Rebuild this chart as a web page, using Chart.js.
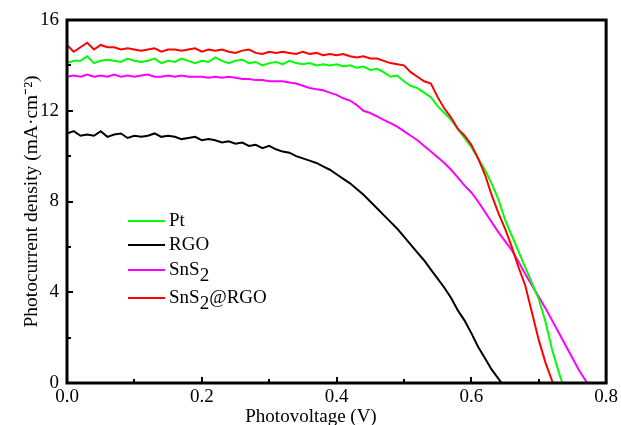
<!DOCTYPE html>
<html>
<head>
<meta charset="utf-8">
<script src="https://cdn.jsdelivr.net/npm/chart.js@4/dist/chart.umd.min.js"></script>
<style>
  html, body { margin: 0; padding: 0; background: #fff; }
  #wrap { width: 621px; height: 425px; position: relative; }
</style>
</head>
<body>
<div id="wrap"><canvas id="myChart"></canvas></div>
<script>
// J-V curves

const labelsLegend = ['Pt', 'RGO', 'SnS₂', 'SnS₂@RGO'];
const colors = ['#00ff00', '#000000', '#ff00ff', '#ff0000'];

const vPt = [0.00,0.01,0.02,0.03,0.04,0.05,0.06,0.07,0.08,0.09,0.10,0.11,0.12,0.13,0.14,0.15,0.16,0.17,0.18,0.19,0.20,0.21,0.22,0.23,0.24,0.25,0.26,0.27,0.28,0.29,0.30,0.31,0.32,0.33,0.34,0.35,0.36,0.37,0.38,0.39,0.40,0.41,0.42,0.43,0.44,0.45,0.46,0.47,0.48,0.49,0.50,0.51,0.52,0.53,0.54,0.55,0.56,0.57,0.58,0.59,0.60,0.61,0.62,0.63,0.64,0.65,0.66,0.67,0.68,0.69,0.70,0.71,0.72,0.73,0.735];
const jPt = [14.1,14.2,14.2,14.4,14.1,14.2,14.25,14.2,14.15,14.3,14.2,14.15,14.2,14.3,14.1,14.2,14.15,14.3,14.2,14.1,14.2,14.15,14.35,14.2,14.1,14.2,14.25,14.1,14.15,14.0,14.1,14.15,14.05,14.2,14.1,14.05,14.1,14.0,14.05,14.0,14.05,13.95,14.0,13.9,13.95,13.8,13.85,13.7,13.5,13.55,13.3,13.1,13.0,12.8,12.6,12.2,11.9,11.6,11.2,10.8,10.4,9.9,9.4,8.8,8.1,7.2,6.5,5.8,5.1,4.4,3.7,2.7,1.45,0.45,0];

const vRGO = [0.00,0.01,0.02,0.03,0.04,0.05,0.06,0.07,0.08,0.09,0.10,0.11,0.12,0.13,0.14,0.15,0.16,0.17,0.18,0.19,0.20,0.21,0.22,0.23,0.24,0.25,0.26,0.27,0.28,0.29,0.30,0.31,0.32,0.33,0.34,0.35,0.36,0.37,0.38,0.39,0.40,0.41,0.42,0.43,0.44,0.45,0.46,0.47,0.48,0.49,0.50,0.51,0.52,0.53,0.54,0.55,0.56,0.57,0.58,0.59,0.60,0.61,0.62,0.63,0.645];
const jRGO = [11.0,11.1,10.9,10.95,10.9,11.1,10.85,10.95,11.0,10.8,10.9,10.85,10.9,11.0,10.85,10.9,10.85,10.75,10.8,10.85,10.7,10.75,10.7,10.6,10.65,10.55,10.6,10.45,10.5,10.35,10.45,10.3,10.2,10.15,10.0,9.9,9.8,9.7,9.55,9.4,9.2,9.0,8.8,8.55,8.3,8.0,7.7,7.4,7.1,6.8,6.45,6.1,5.75,5.4,5.0,4.6,4.2,3.75,3.2,2.75,2.2,1.6,1.1,0.6,0];

const vSnS2 = [0.00,0.01,0.02,0.03,0.04,0.05,0.06,0.07,0.08,0.09,0.10,0.11,0.12,0.13,0.14,0.15,0.16,0.17,0.18,0.19,0.20,0.21,0.22,0.23,0.24,0.25,0.26,0.27,0.28,0.29,0.30,0.31,0.32,0.33,0.34,0.35,0.36,0.37,0.38,0.39,0.40,0.41,0.42,0.43,0.44,0.45,0.46,0.47,0.48,0.49,0.50,0.51,0.52,0.53,0.54,0.55,0.56,0.57,0.58,0.59,0.60,0.61,0.62,0.63,0.64,0.65,0.66,0.67,0.68,0.69,0.70,0.71,0.72,0.73,0.74,0.75,0.76,0.772];
const jSnS2 = [13.5,13.55,13.5,13.6,13.5,13.55,13.5,13.6,13.5,13.55,13.5,13.55,13.6,13.5,13.5,13.55,13.5,13.55,13.5,13.5,13.5,13.45,13.5,13.45,13.5,13.45,13.4,13.4,13.35,13.35,13.3,13.3,13.3,13.25,13.2,13.1,13.0,12.95,12.9,12.8,12.7,12.55,12.45,12.25,12.0,11.9,11.75,11.6,11.45,11.3,11.1,10.9,10.7,10.45,10.2,9.95,9.7,9.4,9.05,8.7,8.4,8.0,7.55,7.1,6.65,6.25,5.85,5.35,4.8,4.3,3.8,3.3,2.75,2.2,1.65,1.1,0.55,0];

const vComp = [0.00,0.01,0.02,0.03,0.04,0.05,0.06,0.07,0.08,0.09,0.10,0.11,0.12,0.13,0.14,0.15,0.16,0.17,0.18,0.19,0.20,0.21,0.22,0.23,0.24,0.25,0.26,0.27,0.28,0.29,0.30,0.31,0.32,0.33,0.34,0.35,0.36,0.37,0.38,0.39,0.40,0.41,0.42,0.43,0.44,0.45,0.46,0.47,0.48,0.49,0.50,0.51,0.52,0.53,0.54,0.55,0.56,0.57,0.58,0.59,0.60,0.61,0.62,0.63,0.64,0.65,0.66,0.67,0.68,0.69,0.70,0.71,0.721];
const jComp = [14.9,14.6,14.8,15.0,14.7,14.9,14.8,14.8,14.7,14.75,14.7,14.65,14.7,14.75,14.6,14.7,14.7,14.65,14.7,14.75,14.6,14.7,14.65,14.7,14.6,14.55,14.65,14.7,14.55,14.5,14.6,14.55,14.6,14.55,14.5,14.6,14.5,14.55,14.45,14.5,14.45,14.5,14.4,14.35,14.4,14.3,14.3,14.2,14.1,14.05,14.0,13.7,13.5,13.3,13.2,12.6,12.1,11.7,11.2,10.9,10.5,9.9,9.2,8.3,7.5,6.8,6.0,5.1,4.3,3.1,1.9,0.9,0];

const xTicks = ['0.0', '0.2', '0.4', '0.6', '0.8'];
const yTicks = ['0', '4', '8', '12', '16'];

const FONT = "'Liberation Serif', 'Times New Roman', serif";

const pairs = (xs, ys) => xs.map((x, i) => ({ x: x, y: ys[i] }));

const seriesV = [vPt, vRGO, vSnS2, vComp];
const seriesJ = [jPt, jRGO, jSnS2, jComp];
const drawOrder = [1, 3, 2, 0];

const datasets = labelsLegend.map((name, i) => ({
  label: name,
  data: pairs(seriesV[i], seriesJ[i]),
  borderColor: colors[i],
  backgroundColor: colors[i],
  borderWidth: 2,
  pointRadius: 0,
  tension: 0,
  fill: false,
  order: drawOrder[i]
}));

// frame, inward ticks, legend, x title
const extras = {
  id: 'extras',
  afterDraw(chart) {
    const ctx = chart.ctx;
    const a = chart.chartArea;
    const xs = chart.scales.x;
    const ys = chart.scales.y;
    ctx.save();

    // tick marks pointing inward
    ctx.strokeStyle = '#000';
    ctx.lineWidth = 2;
    xs.ticks.forEach(t => {
      const px = Math.round(xs.getPixelForValue(t.value));
      const major = Math.round(t.value * 10) % 2 === 0;
      ctx.beginPath();
      ctx.moveTo(px, a.bottom);
      ctx.lineTo(px, a.bottom - (major ? 6 : 4));
      ctx.stroke();
    });
    ys.ticks.forEach(t => {
      const py = Math.round(ys.getPixelForValue(t.value));
      const major = Math.round(t.value) % 4 === 0;
      ctx.beginPath();
      ctx.moveTo(a.left, py);
      ctx.lineTo(a.left + (major ? 6 : 4), py);
      ctx.stroke();
    });

    // frame
    ctx.lineWidth = 3;
    ctx.strokeRect(a.left, a.top, a.right - a.left, a.bottom - a.top);

    // legend
    const lx = 128, ly = [221, 245, 270, 298];
    ctx.textBaseline = 'middle';
    ctx.textAlign = 'left';
    chart.data.datasets.forEach((ds, i) => {
      ctx.strokeStyle = ds.borderColor;
      ctx.lineWidth = 2;
      ctx.beginPath();
      ctx.moveTo(lx, ly[i]);
      ctx.lineTo(lx + 37, ly[i]);
      ctx.stroke();
      ctx.fillStyle = '#000';
      ctx.font = '19px ' + FONT;
      let tx = lx + 41;
      const parts = ds.label.split('₂');
      parts.forEach((p, k) => {
        ctx.fillText(p, tx, ly[i]);
        tx += ctx.measureText(p).width;
        if (k < parts.length - 1) {
          ctx.fillText('2', tx, ly[i] + 6);
          tx += ctx.measureText('2').width;
        }
      });
    });

    // x axis title
    ctx.font = '19px ' + FONT;
    ctx.textAlign = 'center';
    ctx.textBaseline = 'alphabetic';
    ctx.fillText('Photovoltage (V)', 311, 422);
    ctx.restore();
  }
};

const config = {
  type: 'line',
  data: { datasets: datasets },
  options: {
    responsive: true,
    maintainAspectRatio: false,
    animation: false,
    layout: { padding: { top: 20, right: 10, left: 0, bottom: 0 } },
    plugins: {
      legend: { display: false },
      tooltip: { enabled: false }
    },
    scales: {
      x: {
        type: 'linear',
        min: 0,
        max: 0.8,
        grid: { display: false, drawTicks: false },
        border: { display: false },
        afterFit: s => { s.height = 42; },
        ticks: {
          stepSize: 0.1,
          autoSkip: false,
          maxRotation: 0,
          padding: 3,
          color: '#000',
          font: { family: FONT, size: 19 },
          callback: v => {
            const k = Math.round(v * 10);
            return k % 2 === 0 ? xTicks[k / 2] : '';
          }
        }
      },
      y: {
        min: 0,
        max: 16,
        grid: { display: false, drawTicks: false },
        border: { display: false },
        afterFit: s => { s.width = 67; },
        ticks: {
          stepSize: 2,
          autoSkip: false,
          padding: 8,
          color: '#000',
          font: { family: FONT, size: 19 },
          callback: v => (Math.round(v) % 4 === 0 ? yTicks[Math.round(v) / 4] : '')
        },
        title: {
          display: true,
          text: 'Photocurrent density (mA·cm⁻²)',
          color: '#000',
          font: { family: FONT, size: 19.5 },
          padding: { top: 20, bottom: 0 }
        }
      }
    }
  },
  plugins: [extras]
};

const myChart = new Chart(document.getElementById('myChart'), config);
</script>
</body>
</html>
